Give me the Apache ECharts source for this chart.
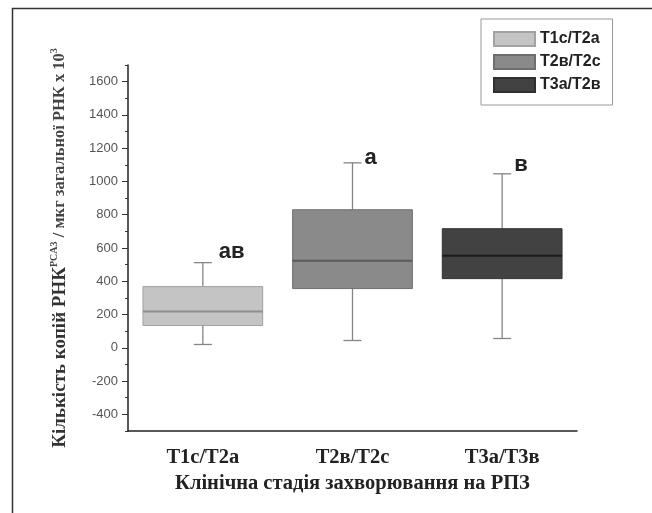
<!DOCTYPE html>
<html>
<head>
<meta charset="utf-8">
<script src="https://cdn.jsdelivr.net/npm/echarts@6/dist/echarts.min.js"></script>
<style>html,body{margin:0;padding:0;background:#fff}#c{width:652px;height:513px}</style>
</head>
<body>
<div id="c"></div>
<script>
// ---- data ----
const categories = ['T1c/T2a', 'T2в/T2c', 'T3a/T3в'];
const legendNames = ['T1c/T2a', 'T2в/T2c', 'T3a/T2в'];
const minValues = [20, 44, 56];
const q1Values = [134, 356, 416];
const medianValues = [218, 524, 554];
const q3Values = [368, 830, 716];
const maxValues = [512, 1112, 1046];
const significance = ['aв', 'a', 'в'];
const yTickValues = [-400, -200, 0, 200, 400, 600, 800, 1000, 1200, 1400, 1600];

// ---- styles ----
const fills = ['#c4c4c4', '#8a8a8a', '#424242'];
const borders = ['#a2a2a2', '#6e6e6e', '#303030'];
const medians = ['#8e8e8e', '#5a5a5a', '#1c1c1c'];
const whiskerColor = '#858585';
const labelDx = [16, 12, 12];
const labelDy = [0, 6, 2];

function renderItem(params, api) {
  const cat = api.value(0);
  const lo = api.coord([cat, api.value(1)]);
  const q1 = api.coord([cat, api.value(2)]);
  const md = api.coord([cat, api.value(3)]);
  const q3 = api.coord([cat, api.value(4)]);
  const hi = api.coord([cat, api.value(5)]);
  const bw = api.size([1, 0])[0] * 0.8;
  const x = lo[0];
  const i = params.seriesIndex;
  const cap = 9;
  return {
    type: 'group',
    children: [
      {type: 'line', shape: {x1: x, y1: hi[1], x2: x, y2: q3[1]}, style: {stroke: whiskerColor, lineWidth: 1.3}},
      {type: 'line', shape: {x1: x, y1: q1[1], x2: x, y2: lo[1]}, style: {stroke: whiskerColor, lineWidth: 1.3}},
      {type: 'line', shape: {x1: x - cap, y1: hi[1], x2: x + cap, y2: hi[1]}, style: {stroke: whiskerColor, lineWidth: 1.3}},
      {type: 'line', shape: {x1: x - cap, y1: lo[1], x2: x + cap, y2: lo[1]}, style: {stroke: whiskerColor, lineWidth: 1.3}},
      {type: 'rect', shape: {x: x - bw / 2, y: q3[1], width: bw, height: q1[1] - q3[1]},
        style: {fill: fills[i], stroke: borders[i], lineWidth: 1}},
      {type: 'line', shape: {x1: x - bw / 2, y1: md[1], x2: x + bw / 2, y2: md[1]}, style: {stroke: medians[i], lineWidth: 2}},
      {type: 'text', x: x + labelDx[i], y: hi[1] + labelDy[i],
        style: {text: significance[i], font: 'bold 22px "Liberation Sans", Arial, sans-serif', fill: '#222',
          textAlign: 'left', textVerticalAlign: 'bottom'}}
    ]
  };
}

const series = categories.map((c, i) => ({
  name: legendNames[i],
  type: 'custom',
  renderItem: renderItem,
  itemStyle: {color: fills[i], borderColor: borders[i], borderWidth: 1},
  encode: {x: 0, y: [1, 2, 3, 4, 5]},
  data: [[i, minValues[i], q1Values[i], medianValues[i], q3Values[i], maxValues[i]]],
  silent: true
}));

const serif = '"Liberation Serif", "Times New Roman", serif';
const chart = echarts.init(document.getElementById('c'), null, {renderer: 'canvas'});
chart.setOption({
  animation: false,
  backgroundColor: '#fff',
  grid: {left: 128, right: 75, top: 65, bottom: 82},
  legend: {
    data: legendNames,
    orient: 'vertical',
    left: 481, top: 19,
    padding: [12, 12, 12, 12],
    borderColor: '#999', borderWidth: 1,
    itemWidth: 41, itemHeight: 14, itemGap: 7,
    icon: 'rect',
    textStyle: {fontFamily: '"Liberation Sans", Arial, sans-serif', fontWeight: 'bold', fontSize: 16, color: '#222'}
  },
  xAxis: {
    type: 'category',
    data: categories,
    boundaryGap: true,
    axisLine: {onZero: false, lineStyle: {color: '#222', width: 1.5}},
    axisTick: {alignWithLabel: true, length: 5, lineStyle: {color: '#222'}},
    axisLabel: {margin: 16, fontFamily: serif, fontWeight: 'bold', fontSize: 20.5, color: '#222'},
    name: 'Клінічна стадія захворювання на РПЗ',
    nameLocation: 'middle',
    nameGap: 38,
    nameTextStyle: {fontFamily: serif, fontWeight: 'bold', fontSize: 20.5, color: '#222'}
  },
  yAxis: [
    {
      type: 'value', position: 'left',
      min: -500, max: 1700,
      axisLine: {show: true, lineStyle: {color: '#222', width: 1.5}},
      axisTick: {show: true, customValues: yTickValues, length: 6, lineStyle: {color: '#333'}},
      axisLabel: {customValues: yTickValues, formatter: v => String(v), margin: 10,
        fontFamily: '"Liberation Sans", Arial, sans-serif', fontSize: 13, color: '#555'},
      splitLine: {show: false},
      name: '{b|Кількість копій РНК}{sup|PCA3}{s| / мкг загальної РНК x 10}{sup|3}',
      nameLocation: 'middle',
      nameRotate: 90,
      nameGap: 57,
      nameTextStyle: {
        rich: {
          b: {fontFamily: serif, fontWeight: 'bold', fontSize: 19, color: '#333', lineHeight: 22},
          s: {fontFamily: serif, fontWeight: 'bold', fontSize: 16.5, color: '#444', lineHeight: 22},
          sup: {fontFamily: serif, fontWeight: 'bold', fontSize: 10, color: '#444', verticalAlign: 'top', lineHeight: 22}
        }
      }
    },
    {
      type: 'value', position: 'left',
      min: -500, max: 1700, interval: 100,
      axisLine: {show: false},
      axisTick: {show: true, length: 3, lineStyle: {color: '#333'}},
      axisLabel: {show: false},
      splitLine: {show: false}
    }
  ],
  graphic: [
    {type: 'rect', left: 10, top: 6, shape: {width: 700, height: 600}, style: {fill: 'none', stroke: '#333', lineWidth: 1.5}, silent: true, z: -1}
  ],
  series: series
});
</script>
</body>
</html>
